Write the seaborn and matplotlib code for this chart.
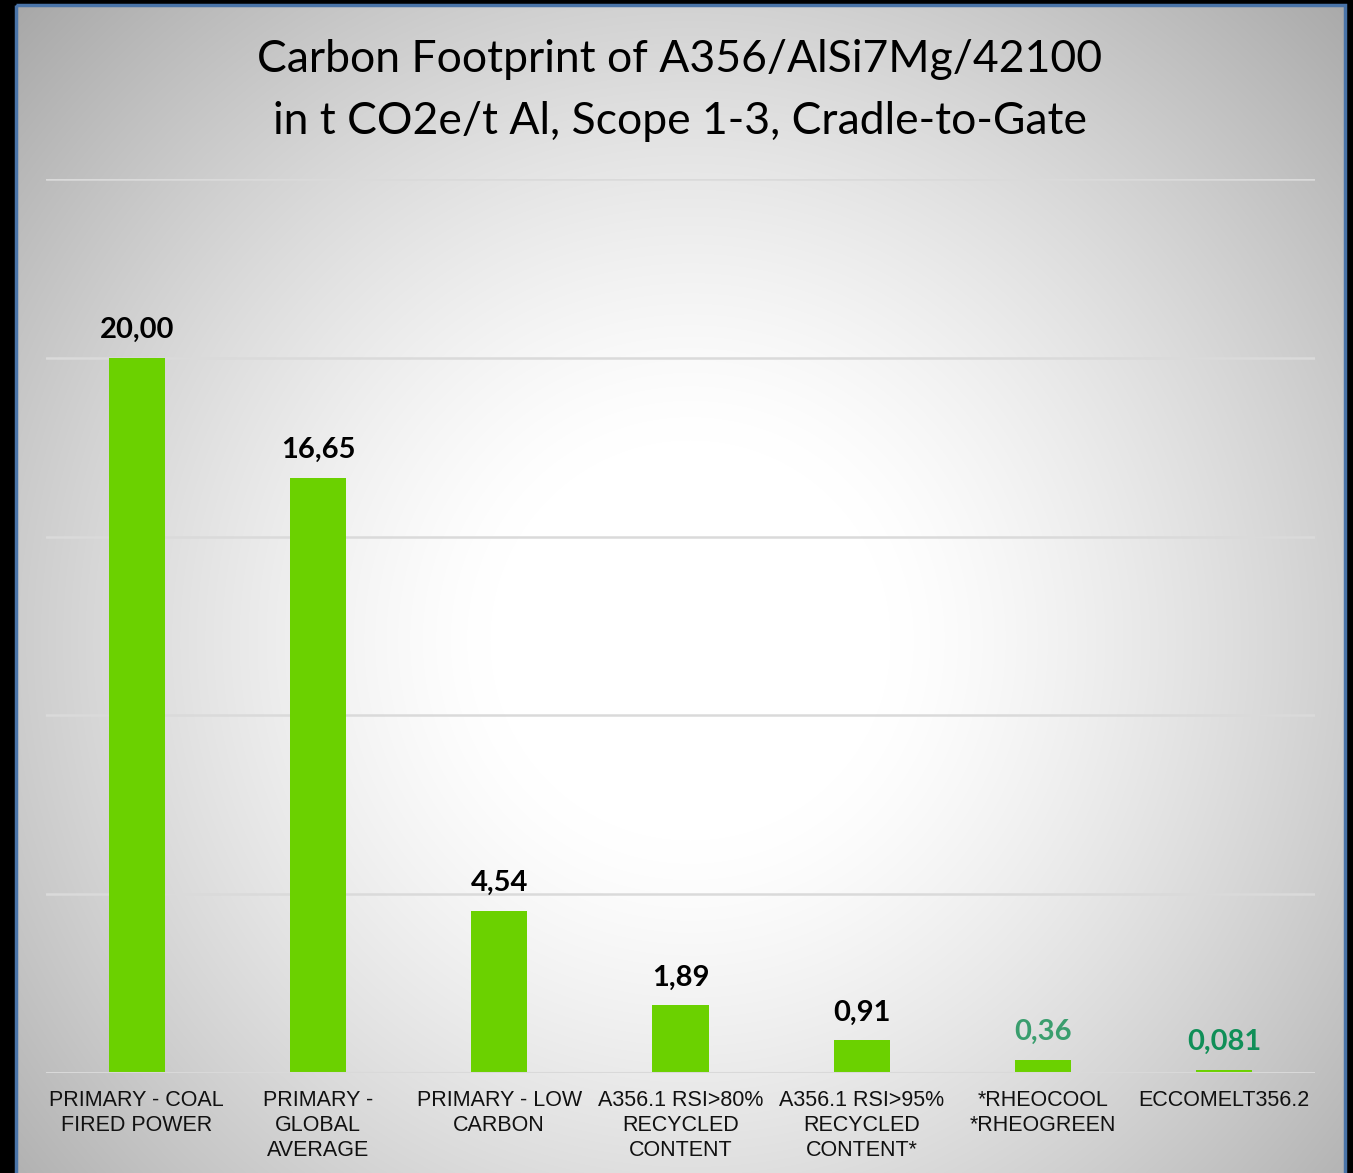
import numpy as np
import pandas as pd
import matplotlib
matplotlib.use("Agg")
import matplotlib.pyplot as plt
import seaborn as sns

# ---- data ----
categories = ["PRIMARY - COAL\nFIRED POWER", "PRIMARY -\nGLOBAL\nAVERAGE", "PRIMARY - LOW\nCARBON",
              "A356.1 RSI>80%\nRECYCLED\nCONTENT", "A356.1 RSI>95%\nRECYCLED\nCONTENT*",
              "*RHEOCOOL\n*RHEOGREEN", "ECCOMELT356.2"]
values = [20.00, 16.65, 4.54, 1.89, 0.91, 0.36, 0.081]
value_labels = ["20,00", "16,65", "4,54", "1,89", "0,91", "0,36", "0,081"]
title_lines = ["Carbon Footprint of A356/AlSi7Mg/42100", "in t CO2e/t Al, Scope 1-3, Cradle-to-Gate"]

# ---- style ----
label_colors = ["black", "black", "black", "black", "black", "#3a9e6e", "#108f58"]
bar_color = "#6bd100"

W, H = 1353, 1173
sns.set_theme(style="white")
plt.rcParams['font.family'] = ['Liberation Sans', 'DejaVu Sans']

fig = plt.figure(figsize=(W / 100, H / 100), dpi=100)
fig.patch.set_facecolor("black")

# background with radial gradient
bg = fig.add_axes([0, 0, 1, 1])
bg.set_xlim(0, W)
bg.set_ylim(H, 0)
bg.axis("off")
x0, x1, y0, y1 = 16, 1345, 5, H + 5
xx, yy = np.meshgrid(np.arange(x0, x1), np.arange(y0, y1))
cx, cy = 690, 640
d = np.sqrt((xx - cx) ** 2 + (yy - cy) ** 2)
t = np.clip((d - 200) / (920 - 200), 0, 1) ** 1.3
v = 1 - 0.34 * t
img = np.dstack([v, v, v])
bg.imshow(img, extent=[x0, x1, y1, y0], aspect="auto", zorder=0, interpolation="bilinear")
bg.add_patch(plt.Rectangle((x0, y0), x1 - x0, y1 - y0, fill=False, edgecolor="#4a74a8", lw=2.5, zorder=1))

# title
bg.text(680, 60, title_lines[0], ha="center", va="center", fontsize=32, family=["Lato", "DejaVu Sans"], color="black")
bg.text(680, 121, title_lines[1], ha="center", va="center", fontsize=32, family=["Lato", "DejaVu Sans"], color="black")

# main axes
left, right, top, base = 46, 1315, 179, 1073
ax = fig.add_axes([left / W, (H - base) / H, (right - left) / W, (base - top) / H])
ax.set_facecolor("none")
df = pd.DataFrame({"cat": categories, "val": values})
sns.barplot(data=df, x="cat", y="val", color=bar_color, saturation=1, width=0.31, ax=ax, zorder=3,
            linewidth=0, edgecolor="none")
ax.set_ylim(0, 25)
ax.set_xlim(-0.5, len(categories) - 0.5)
ax.set_yticks([])
ax.set_xlabel("")
ax.set_ylabel("")
for yv in [5, 10, 15, 20, 25]:
    ax.axhline(yv, color="#dadada", lw=1.8, zorder=1)
ax.axhline(0, color="#d9d9d9", lw=2.2, zorder=4)
for s in ax.spines.values():
    s.set_visible(False)
ax.tick_params(axis="x", length=0, pad=12)
ax.set_xticks(range(len(categories)))
ax.set_xticklabels(categories, fontsize=15.5, color="#111111", linespacing=1.25)

for i, (val, lab, col) in enumerate(zip(values, value_labels, label_colors)):
    ax.annotate(lab, (i, val), xytext=(0, 15), textcoords="offset pixels", ha="center", va="bottom",
                fontsize=21, fontweight="bold", color=col, family=["Lato", "DejaVu Sans"])

fig.savefig("out.png", dpi=100, facecolor=fig.get_facecolor())
